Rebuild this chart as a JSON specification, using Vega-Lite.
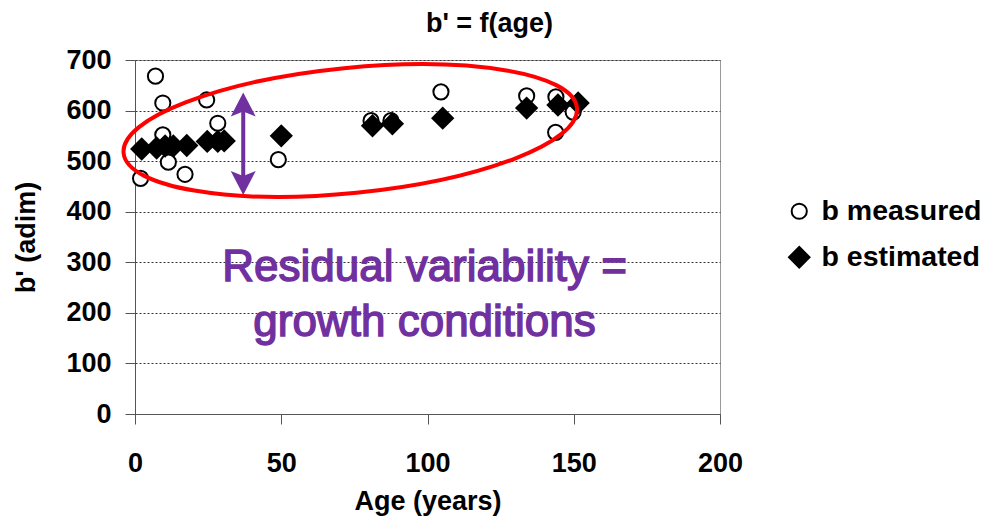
{
  "$schema": "https://vega.github.io/schema/vega-lite/v6.json",
  "autosize": "none",
  "width": 585,
  "height": 354,
  "padding": {"left": 135, "top": 60, "right": 268, "bottom": 105},
  "background": "white",
  "title": {"text": "b' = f(age)", "anchor": "middle", "dx": 62, "offset": 8, "font": "Liberation Sans", "fontSize": 27, "fontWeight": "bold", "color": "black"},
  "config": {
    "view": {"stroke": "#999999", "strokeWidth": 1},
    "axis": {"labelFont": "Liberation Sans", "labelFontWeight": "bold", "labelFontSize": 27, "labelColor": "black", "titleFont": "Liberation Sans", "titleFontWeight": "bold", "titleFontSize": 27, "titleColor": "black", "domainColor": "#555555", "tickColor": "#555555", "tickSize": 10, "labelFlush": false},
    "legend": {"title": null, "orient": "none", "legendX": 650, "legendY": 137, "labelFont": "Liberation Sans", "labelFontWeight": "bold", "labelFontSize": 28.5, "labelColor": "black", "rowPadding": 17, "symbolStrokeWidth": 2, "labelOffset": 8}
  },
  "datasets": {
    "pts": [
      {"age": 1.9, "b": 466, "series": "b measured"},
      {"age": 7, "b": 668, "series": "b measured"},
      {"age": 9.5, "b": 615, "series": "b measured"},
      {"age": 9.5, "b": 552, "series": "b measured"},
      {"age": 11.4, "b": 498, "series": "b measured"},
      {"age": 17.1, "b": 474, "series": "b measured"},
      {"age": 24.5, "b": 621, "series": "b measured"},
      {"age": 28.3, "b": 575, "series": "b measured"},
      {"age": 49, "b": 503, "series": "b measured"},
      {"age": 80.7, "b": 580, "series": "b measured"},
      {"age": 87.5, "b": 580, "series": "b measured"},
      {"age": 104.6, "b": 637, "series": "b measured"},
      {"age": 133.9, "b": 629, "series": "b measured"},
      {"age": 143.9, "b": 627, "series": "b measured"},
      {"age": 143.8, "b": 557, "series": "b measured"},
      {"age": 149.8, "b": 597, "series": "b measured"},
      {"age": 2.3, "b": 524, "series": "b estimated"},
      {"age": 7.4, "b": 526, "series": "b estimated"},
      {"age": 10.3, "b": 530, "series": "b estimated"},
      {"age": 13.1, "b": 530, "series": "b estimated"},
      {"age": 17.7, "b": 531, "series": "b estimated"},
      {"age": 24.7, "b": 539, "series": "b estimated"},
      {"age": 28.3, "b": 539, "series": "b estimated"},
      {"age": 30.5, "b": 540, "series": "b estimated"},
      {"age": 50, "b": 550, "series": "b estimated"},
      {"age": 81.2, "b": 570, "series": "b estimated"},
      {"age": 88, "b": 574, "series": "b estimated"},
      {"age": 105.2, "b": 585, "series": "b estimated"},
      {"age": 133.9, "b": 605, "series": "b estimated"},
      {"age": 144.6, "b": 611, "series": "b estimated"},
      {"age": 151.5, "b": 615, "series": "b estimated"}
    ],
    "ellipse": [{"age": 73.6, "b": 560.6}],
    "shaft": [{"age": 37, "b": 612, "b2": 457}],
    "headUp": [{"age": 37, "b": 612}],
    "headDown": [{"age": 37, "b": 457}],
    "note": [{"age": 99, "b": 289, "label": "Residual variability ="}, {"age": 99, "b": 180, "label": "growth conditions"}]
  },
  "layer": [
    {
      "data": {"name": "pts"},
      "mark": {"type": "point", "filled": true, "strokeWidth": 2, "opacity": 1},
      "encoding": {
        "x": {"field": "age", "type": "quantitative", "scale": {"domain": [0, 200], "nice": false}, "axis": {"values": [0, 50, 100, 150, 200], "title": "Age (years)", "labelPadding": 26, "titlePadding": 12, "grid": false}},
        "y": {"field": "b", "type": "quantitative", "scale": {"domain": [0, 700], "nice": false}, "axis": {"values": [0, 100, 200, 300, 400, 500, 600, 700], "title": "b' (adim)", "labelPadding": 14, "titlePadding": 25, "grid": true, "gridDash": [2, 2], "gridColor": "#333333", "gridWidth": 1}},
        "shape": {"field": "series", "type": "nominal", "scale": {"domain": ["b measured", "b estimated"], "range": ["circle", "diamond"]}},
        "fill": {"field": "series", "type": "nominal", "scale": {"domain": ["b measured", "b estimated"], "range": ["white", "black"]}},
        "stroke": {"field": "series", "type": "nominal", "scale": {"domain": ["b measured", "b estimated"], "range": ["black", "black"]}},
        "size": {"field": "series", "type": "nominal", "scale": {"domain": ["b measured", "b estimated"], "range": [230, 420]}}
      }
    },
    {
      "data": {"name": "shaft"},
      "mark": {"type": "rule", "color": "#7030A0", "strokeWidth": 4},
      "encoding": {"x": {"field": "age", "type": "quantitative"}, "y": {"field": "b", "type": "quantitative"}, "y2": {"field": "b2"}}
    },
    {
      "data": {"name": "headUp"},
      "mark": {"type": "point", "filled": true, "color": "#7030A0", "opacity": 1, "size": 625, "shape": "M0,-0.96L1,0.96L0,0.56L-1,0.96Z"},
      "encoding": {"x": {"field": "age", "type": "quantitative"}, "y": {"field": "b", "type": "quantitative"}}
    },
    {
      "data": {"name": "headDown"},
      "mark": {"type": "point", "filled": true, "color": "#7030A0", "opacity": 1, "size": 625, "shape": "M0,0.96L1,-0.96L0,-0.56L-1,-0.96Z"},
      "encoding": {"x": {"field": "age", "type": "quantitative"}, "y": {"field": "b", "type": "quantitative"}}
    },
    {
      "data": {"name": "ellipse"},
      "mark": {"type": "point", "filled": false, "stroke": "#FF0000", "strokeWidth": 4, "opacity": 1, "size": 207600, "angle": 354.3, "shape": "M-1,0C-1,-0.1519,-0.5523,-0.275,0,-0.275C0.5523,-0.275,1,-0.1519,1,0C1,0.1519,0.5523,0.275,0,0.275C-0.5523,0.275,-1,0.1519,-1,0Z"},
      "encoding": {"x": {"field": "age", "type": "quantitative"}, "y": {"field": "b", "type": "quantitative"}}
    },
    {
      "data": {"name": "note"},
      "mark": {"type": "text", "color": "#7030A0", "stroke": "#7030A0", "strokeWidth": 1.4, "font": "Liberation Sans", "fontWeight": "normal", "fontSize": 44, "baseline": "middle", "align": "center"},
      "encoding": {"x": {"field": "age", "type": "quantitative"}, "y": {"field": "b", "type": "quantitative"}, "text": {"field": "label"}}
    }
  ]
}
